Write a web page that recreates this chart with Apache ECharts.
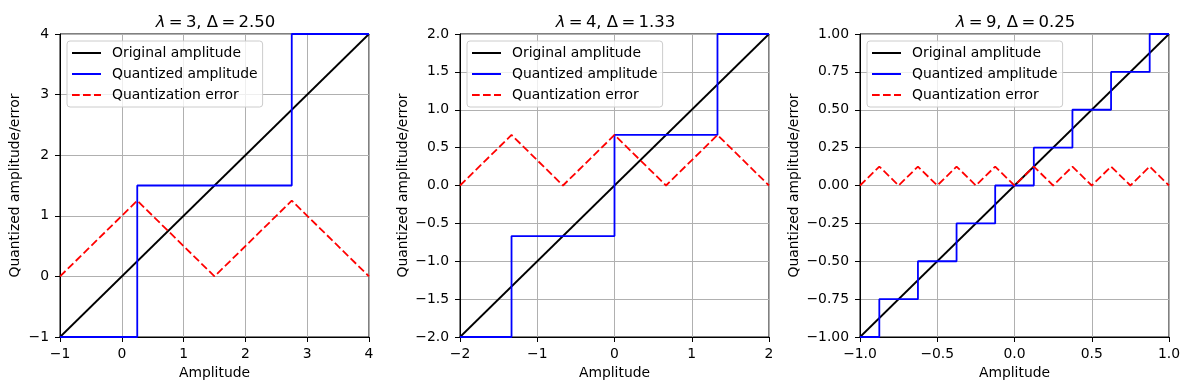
<!DOCTYPE html>
<html><head><meta charset="utf-8">
<script src="https://cdn.jsdelivr.net/npm/echarts@6/dist/echarts.min.js"></script>
<style>html,body{margin:0;padding:0;background:#fff}#c{width:1189px;height:390px}</style>
</head><body><div id="c"></div>
<script>
const titleLambdas = ['3', '4', '9'];
const titleDeltas = ['2.50', '1.33', '0.25'];
const xRanges = [[-1, 4, 1], [-2, 2, 1], [-1, 1, 0.5]];
const yRanges = [[-1, 4, 1], [-2, 2, 0.5], [-1, 1, 0.25]];
const xDecimals = [0, 0, 1];
const yDecimals = [0, 1, 2];

const original1 = [[-1, -1], [4, 4]];
const quantized1 = [[-1, -1], [0.25, -1], [0.25, 1.5], [2.75, 1.5], [2.75, 4], [4, 4]];
const error1 = [[-1, 0], [0.25, 1.25], [1.5, 0], [2.75, 1.25], [4, 0]];

const original2 = [[-2, -2], [2, 2]];
const quantized2 = [[-2, -2], [-1.333, -2], [-1.333, -0.667], [0, -0.667], [0, 0.667], [1.333, 0.667], [1.333, 2], [2, 2]];
const error2 = [[-2, 0], [-1.333, 0.667], [-0.667, 0], [0, 0.667], [0.667, 0], [1.333, 0.667], [2, 0]];

const original3 = [[-1, -1], [1, 1]];
const quantized3 = [[-1, -1], [-0.875, -1], [-0.875, -0.75], [-0.625, -0.75], [-0.625, -0.5], [-0.375, -0.5], [-0.375, -0.25], [-0.125, -0.25], [-0.125, 0], [0.125, 0], [0.125, 0.25], [0.375, 0.25], [0.375, 0.5], [0.625, 0.5], [0.625, 0.75], [0.875, 0.75], [0.875, 1], [1, 1]];
const error3 = [[-1, 0], [-0.875, 0.125], [-0.75, 0], [-0.625, 0.125], [-0.5, 0], [-0.375, 0.125], [-0.25, 0], [-0.125, 0.125], [0, 0], [0.125, 0.125], [0.25, 0], [0.375, 0.125], [0.5, 0], [0.625, 0.125], [0.75, 0], [0.875, 0.125], [1, 0]];

const originals = [original1, original2, original3];
const quantizeds = [quantized1, quantized2, quantized3];
const errors = [error1, error2, error3];
const seriesNames = ['Original amplitude', 'Quantized amplitude', 'Quantization error'];

const FONT = 'DejaVu Sans';
const gridLefts = [60, 460, 860];
const gridW = 309, gridTop = 34, gridH = 303;
const yNameGaps = [38, 50, 59];

function fmt(v, d) { return v.toFixed(d).replace('-', '\u2212'); }

const option = { animation: false, backgroundColor: '#fff', title: [], grid: [], xAxis: [], yAxis: [], legend: [], series: [] };
for (let i = 0; i < 3; i++) {
  const ts = '\u2009';
  option.title.push({
    text: '{i|λ}' + ts + '=' + ts + titleLambdas[i] + ', Δ' + ts + '=' + ts + titleDeltas[i],
    left: gridLefts[i] + gridW / 2 - 4, top: 9, textAlign: 'center',
    textStyle: { fontFamily: FONT, fontSize: 16.5, fontWeight: 'normal', color: '#000',
      rich: { i: { fontFamily: FONT, fontSize: 16.5, fontStyle: 'italic', color: '#000' } } } });
  option.grid.push({ left: gridLefts[i], top: gridTop, width: gridW, height: gridH, show: true,
    borderColor: '#000', borderWidth: 1, backgroundColor: 'transparent' });
  const axCommon = {
    type: 'value', gridIndex: i,
    axisLine: { show: true, onZero: false, lineStyle: { color: '#000', width: 1 } },
    axisTick: { show: true, inside: false, length: 5, lineStyle: { color: '#000' } },
    splitLine: { show: true, lineStyle: { color: '#b0b0b0', width: 1 } },
    nameTextStyle: { fontFamily: FONT, fontSize: 13.9, color: '#000' },
    nameLocation: 'middle'
  };
  option.xAxis.push(Object.assign({}, axCommon, {
    min: xRanges[i][0], max: xRanges[i][1], interval: xRanges[i][2],
    name: 'Amplitude', nameGap: 29,
    axisLabel: { fontFamily: FONT, fontSize: 13.9, color: '#000', margin: 10, formatter: v => fmt(v, xDecimals[i]) }
  }));
  option.yAxis.push(Object.assign({}, axCommon, {
    min: yRanges[i][0], max: yRanges[i][1], interval: yRanges[i][2],
    name: 'Quantized amplitude/error', nameGap: yNameGaps[i],
    axisLabel: { fontFamily: FONT, fontSize: 13.9, color: '#000', margin: 11, formatter: v => fmt(v, yDecimals[i]) }
  }));
  const suf = i ? '\u200b'.repeat(i) : '';
  option.legend.push({
    orient: 'vertical', left: gridLefts[i] + 7, top: gridTop + 7,
    data: seriesNames.map(n => n + suf),
    itemWidth: 29, itemHeight: 14, itemGap: 7,
    padding: [5, 5, 5, 4],
    itemStyle: { opacity: 0 },
    backgroundColor: 'rgba(255,255,255,0.8)', borderColor: '#cccccc', borderWidth: 1, borderRadius: 3,
    textStyle: { fontFamily: FONT, fontSize: 13.9, color: '#000', padding: [0, 0, 0, 6] }
  });
  const data = [originals[i], quantizeds[i], errors[i]];
  const colors = ['#000000', '#0000ff', '#ff0000'];
  const types = ['solid', 'solid', [7.7, 3.3]];
  for (let k = 0; k < 3; k++) {
    option.series.push({
      name: seriesNames[k] + suf, type: 'line', xAxisIndex: i, yAxisIndex: i,
      data: data[k], showSymbol: false, symbol: 'none', silent: true,
      itemStyle: { color: colors[k] },
      lineStyle: { color: colors[k], width: 1.8, type: types[k], dashOffset: 0 },
      clip: false
    });
  }
}
const chart = echarts.init(document.getElementById('c'), null, { renderer: 'canvas' });
chart.setOption(option);
</script></body></html>
